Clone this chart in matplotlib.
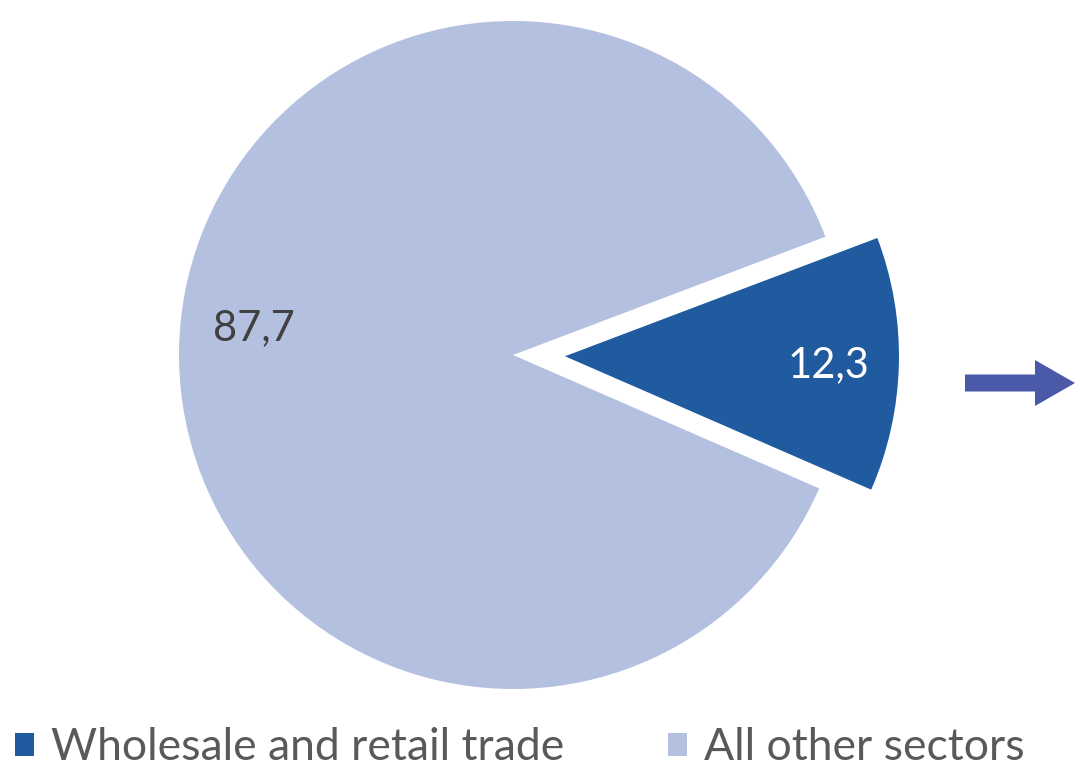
import numpy as np
import matplotlib
matplotlib.use('Agg')
import matplotlib.pyplot as plt
from matplotlib.patches import FancyArrow

labels = ['Wholesale and retail trade', 'All other sectors']
values = [12.3, 87.7]
value_text = ['12,3', '87,7']
colors = ['#1f5b9e', '#b4c0e0']

plt.rcParams['font.family'] = ['Lato', 'DejaVu Sans']

fig = plt.figure(figsize=(10.8, 7.67), dpi=100)
ax = fig.add_axes([0, 0, 1, 1])

# dark slice on the right (tilted a touch downward), pulled out from the pie
start = -values[0] / 100 * 360 / 2 - 1.4
cx, cy, r, shift = 513, 412, 334, 52
wedges, _ = ax.pie(values, colors=colors, startangle=start, radius=r,
                   center=(cx, cy), explode=[shift, 0], frame=True,
                   wedgeprops=dict(linewidth=0))
ax.set_xlim(0, 1080)
ax.set_ylim(0, 767)
ax.set_aspect('equal')
ax.axis('off')

# value labels
ax.text(cx + shift + 0.79 * r, cy - 10, value_text[0], color='white',
        fontsize=30, ha='center', va='center')
ang = np.deg2rad(174)
ax.text(cx + 0.78 * r * np.cos(ang), cy + 0.78 * r * np.sin(ang), value_text[1],
        color='#404040', fontsize=30, ha='center', va='center')

# arrow on the right
ax.add_patch(FancyArrow(965, 384, 110, 0, width=17, head_width=46,
                        head_length=40, length_includes_head=True,
                        color='#4a5aa8', linewidth=0))

fig.legend(wedges, labels, loc='center left', bbox_to_anchor=(0.014, 0.025),
           ncol=2, frameon=False, fontsize=32, handlelength=0.42,
           handleheight=0.42, handletextpad=0.38, columnspacing=2.35,
           borderpad=0, borderaxespad=0, labelcolor='#595959')

fig.savefig('out.png', dpi=100)
